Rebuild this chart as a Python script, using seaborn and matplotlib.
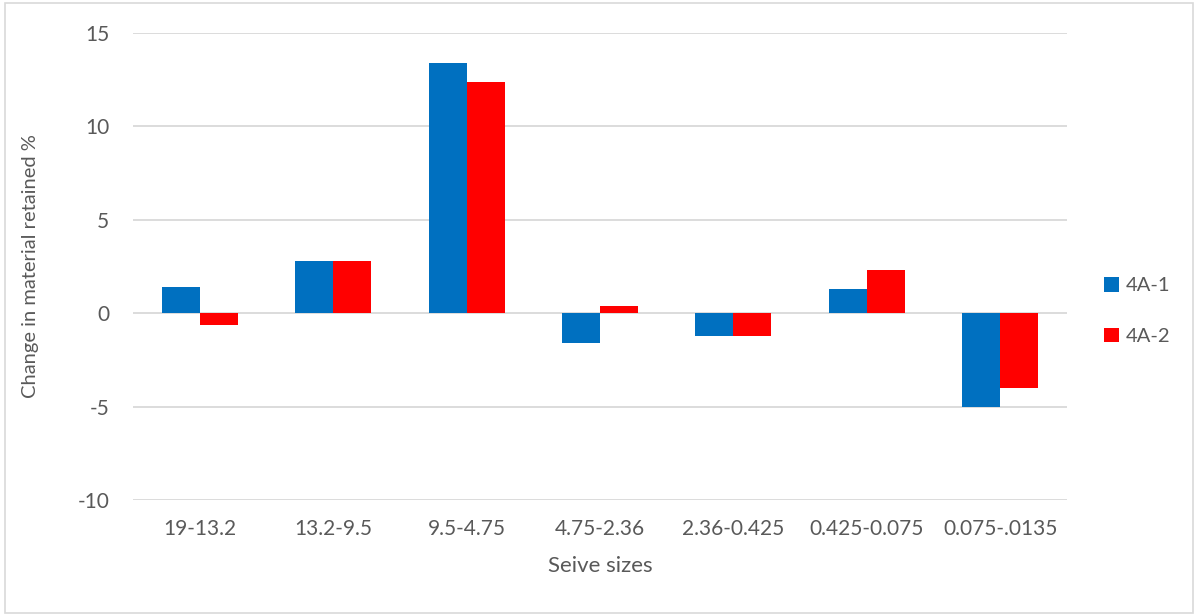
import matplotlib
matplotlib.use("Agg")
import matplotlib.pyplot as plt
import seaborn as sns
import pandas as pd
from matplotlib.patches import Rectangle

# Sieve size ranges (mm) and the change in material retained for two samples
sieve_sizes = ["19-13.2", "13.2-9.5", "9.5-4.75", "4.75-2.36",
               "2.36-0.425", "0.425-0.075", "0.075-.0135"]
sample_4a1 = [1.4, 2.8, 13.4, -1.6, -1.2, 1.3, -5.0]
sample_4a2 = [-0.65, 2.8, 12.4, 0.4, -1.2, 2.3, -4.0]
series_names = ["4A-1", "4A-2"]
y_ticks = [-10, -5, 0, 5, 10, 15]

df = pd.DataFrame({
    "Seive sizes": sieve_sizes * 2,
    "value": sample_4a1 + sample_4a2,
    "series": [series_names[0]] * len(sieve_sizes) + [series_names[1]] * len(sieve_sizes),
})

sns.set_theme(style="white")
plt.rcParams["font.family"] = ["Lato", "DejaVu Sans"]
plt.rcParams["axes.unicode_minus"] = False
text_color = "#595959"
grid_color = "#D9D9D9"

W, H = 1198, 616
fig = plt.figure(figsize=(W / 100, H / 100), dpi=100)
ax = fig.add_axes([133 / W, 1 - 500 / H, (1067 - 133) / W, (500 - 33) / H])

sns.barplot(data=df, x="Seive sizes", y="value", hue="series",
            palette=["#0070C0", "#FF0000"], saturation=1, width=0.57, gap=0,
            order=sieve_sizes, hue_order=series_names,
            edgecolor="none", linewidth=0, ax=ax, zorder=3)

ax.set_ylim(-10, 15)
ax.set_yticks(y_ticks)
ax.set_xlim(-0.5, len(sieve_sizes) - 0.5)
ax.yaxis.grid(True, color=grid_color, linewidth=1.3, zorder=0)
ax.set_axisbelow(True)
for s in ax.spines.values():
    s.set_visible(False)
ax.tick_params(axis="both", length=0, labelsize=15, colors=text_color)
ax.tick_params(axis="x", pad=14)
ax.tick_params(axis="y", pad=17)

ax.set_xlabel("Seive sizes", fontsize=16, color=text_color, labelpad=12)
ax.set_ylabel("Change in material retained %", fontsize=14.5, color=text_color, labelpad=28)

leg = ax.legend(loc="center left", bbox_to_anchor=(1104 / W, 1 - 311 / H),
                bbox_transform=fig.transFigure, frameon=False,
                fontsize=14.5, handlelength=0.72, handleheight=0.72,
                handletextpad=0.35, labelspacing=1.65, borderaxespad=0, borderpad=0,
                title=None)
for t in leg.get_texts():
    t.set_color(text_color)

# Light outline around the whole chart area
fig.patches.append(Rectangle((0.004, 0.005), 0.992, 0.99, transform=fig.transFigure,
                             fill=False, edgecolor=grid_color, linewidth=1.2))

fig.savefig("out.png", dpi=100, facecolor="white")
